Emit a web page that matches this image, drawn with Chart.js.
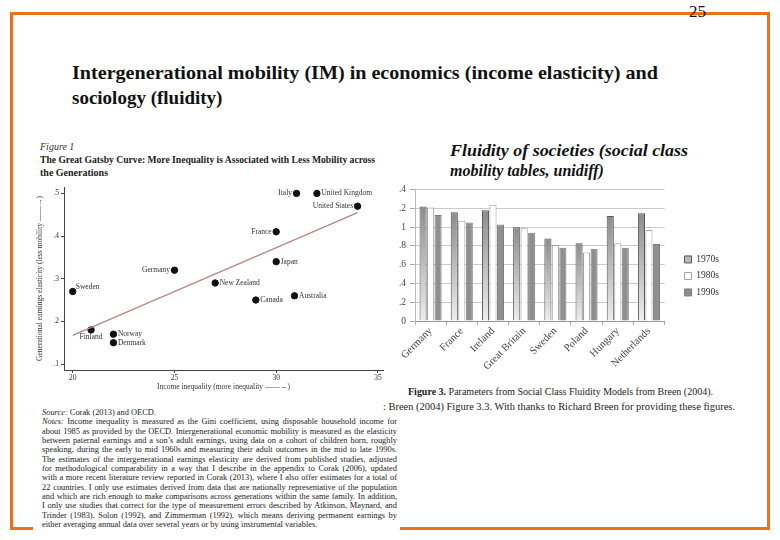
<!DOCTYPE html>
<html lang="en">
<head>
<meta charset="utf-8">
<title>Intergenerational mobility</title>
<script src="https://cdn.jsdelivr.net/npm/chart.js@4.4.1/dist/chart.umd.min.js"></script>
<style>
  html, body { margin: 0; padding: 0; background: #fff; }
  body { width: 780px; height: 540px; position: relative; overflow: hidden;
         font-family: "Liberation Serif", "DejaVu Serif", serif; color: #111; }
  .abs { position: absolute; white-space: nowrap; }
  .marco { position: absolute; left: 10px; top: 12px; width: 754px; height: 512px; border: 3px solid #ec7118; }
  .pagina { left: 689px; top: 2px; font-size: 17px; background: transparent; }
  .titulo { left: 72px; font-size: 19px; font-weight: bold; transform-origin: left center; }
  .figura1 { position: absolute; left: 33px; top: 135px; width: 367px; height: 405px; background: #fff; }
  .linea { display: inline-block; transform-origin: left center; }
  .notas { left: 42px; top: 408px; font-size: 8.4px; line-height: 9.35px; color: #222; }
  .notas div, .notas span, .notas i { white-space: nowrap; color: #222; }
  .notas span.l { display: inline-block; }
  canvas { position: absolute; }
</style>
</head>
<body>
<div class="marco"></div>
<div class="abs pagina">25</div>

<div class="abs titulo" style="top:62px"><span class="linea" data-ancho="586">Intergenerational mobility (IM) in economics (income elasticity) and</span></div>
<div class="abs titulo" style="top:87px"><span class="linea">sociology (fluidity)</span></div>

<div class="figura1"></div>
<div class="abs" style="left:40px; top:141px; font-size:10px; font-style:italic; color:#333;">Figure 1</div>
<div class="abs" style="left:40px; top:154px; font-size:10px; font-weight:bold; color:#222; line-height:12.5px;">
  <span class="linea" data-ancho="335">The Great Gatsby Curve: More Inequality is Associated with Less Mobility across</span><br>
  <span class="linea">the Generations</span>
</div>

<canvas id="graficoGatsby" width="365" height="215" style="left:30px; top:180px;"></canvas>

<div class="abs notas">
  <div><span class="l"><i>Source:</i> Corak (2013) and OECD.</span></div>
  <div><span class="l j"><i>Notes:</i> Income inequality is measured as the Gini coefficient, using disposable household income for</span></div>
  <div><span class="l j">about 1985 as provided by the OECD. Intergenerational economic mobility is measured as the elasticity</span></div>
  <div><span class="l j">between paternal earnings and a son’s adult earnings, using data on a cohort of children born, roughly</span></div>
  <div><span class="l j">speaking, during the early to mid 1960s and measuring their adult outcomes in the mid to late 1990s.</span></div>
  <div><span class="l j">The estimates of the intergenerational earnings elasticity are derived from published studies, adjusted</span></div>
  <div><span class="l j">for methodological comparability in a way that I describe in the appendix to Corak (2006), updated</span></div>
  <div><span class="l j">with a more recent literature review reported in Corak (2013), where I also offer estimates for a total of</span></div>
  <div><span class="l j">22 countries. I only use estimates derived from data that are nationally representative of the population</span></div>
  <div><span class="l j">and which are rich enough to make comparisons across generations within the same family. In addition,</span></div>
  <div><span class="l j">I only use studies that correct for the type of measurement errors described by Atkinson, Maynard, and</span></div>
  <div><span class="l j">Trinder (1983), Solon (1992), and Zimmerman (1992), which means deriving permanent earnings by</span></div>
  <div><span class="l">either averaging annual data over several years or by using instrumental variables.</span></div>
</div>

<div class="abs" style="left:450px; top:141px; font-size:16px; font-weight:bold; font-style:italic; line-height:20px;">
  <span class="linea" data-ancho="238">Fluidity of societies (social class</span><br>
  <span class="linea">mobility tables, unidiff)</span>
</div>

<canvas id="graficoFluidez" width="360" height="203" style="left:395px; top:180px;"></canvas>

<div class="abs" style="left:408px; top:387px; font-size:9.5px; color:#222;"><span class="linea" data-ancho="305"><b>Figure 3.</b> Parameters from Social Class Fluidity Models from Breen (2004).</span></div>
<div class="abs" style="left:383px; top:402px; font-size:9.5px; color:#222;"><span class="linea" data-ancho="352">: Breen (2004) Figure 3.3. With thanks to Richard Breen for providing these figures.</span></div>

<script>
// Datos: curva de Gatsby (desigualdad vs elasticidad)
const paises = ['Italy', 'United Kingdom', 'United States', 'France', 'Japan', 'Germany', 'New Zealand',
                'Canada', 'Australia', 'Sweden', 'Finland', 'Norway', 'Denmark'];
const desigualdad = [31, 32, 34, 30, 30, 25, 27, 29, 30.9, 20, 20.9, 22, 22];
const elasticidad = [0.50, 0.50, 0.47, 0.41, 0.34, 0.32, 0.29, 0.25, 0.26, 0.27, 0.18, 0.17, 0.15];
const ajusteX = [20, 34];
const ajusteY = [0.167, 0.455];
const ticksDesigualdad = [20, 25, 30, 35];
const ticksElasticidad = [0.1, 0.2, 0.3, 0.4, 0.5];
const etiquetasElasticidad = ['.1', '.2', '.3', '.4', '.5'];

// Datos: fluidez (Breen 2004)
const naciones = ['Germany', 'France', 'Ireland', 'Great Britain', 'Sweden', 'Poland', 'Hungary', 'Netherlands'];
const decadas = ['1970s', '1980s', '1990s'];
const fluidez1970 = [1.22, 1.16, 1.18, 1.00, 0.88, 0.83, 1.12, 1.15];
const fluidez1980 = [1.21, 1.07, 1.24, 0.99, 0.81, 0.73, 0.83, 0.97];
const fluidez1990 = [1.13, 1.05, 1.03, 0.94, 0.78, 0.77, 0.78, 0.82];
const ticksFluidez = [0, 0.2, 0.4, 0.6, 0.8, 1, 1.2, 1.4];
const etiquetasFluidez = ['0', '.2', '.4', '.6', '.8', '1', '.2', '.4'];

const serif = '"Liberation Serif", "DejaVu Serif", serif';

// Ajuste de lineas de texto al ancho del original
document.querySelectorAll('.linea[data-ancho]').forEach(el => {
    const ancho = parseFloat(el.dataset.ancho);
    el.style.transform = `scaleX(${ancho / el.getBoundingClientRect().width})`;
});
document.querySelectorAll('.notas .j').forEach(el => {
    const espacios = (el.textContent.match(/ /g) || []).length;
    const natural = el.getBoundingClientRect().width;
    el.style.wordSpacing = ((355 - natural) / espacios) + 'px';
});

// Donde va el nombre de cada pais
const ladoEtiqueta = { 'Italy': 'izq', 'United States': 'izq', 'France': 'izq', 'Germany': 'izq',
                       'Sweden': 'arriba', 'Finland': 'abajo' };

const etiquetasPuntos = {
    id: 'etiquetasPuntos',
    afterDatasetsDraw(chart) {
        const ctx = chart.ctx;
        const meta = chart.getDatasetMeta(1);
        ctx.save();
        ctx.font = `7.5px ${serif}`;
        ctx.fillStyle = '#333';
        ctx.textBaseline = 'middle';
        meta.data.forEach((pt, i) => {
            const lado = ladoEtiqueta[paises[i]] || 'der';
            let x = pt.x, y = pt.y;
            if (lado === 'izq') { ctx.textAlign = 'right'; x -= 4.5; }
            else if (lado === 'abajo') { ctx.textAlign = 'center'; y += 7.5; }
            else if (lado === 'arriba') { ctx.textAlign = 'left'; x += 3; y -= 4.5; }
            else { ctx.textAlign = 'left'; x += 4.5; }
            ctx.fillText(paises[i], x, y);
        });
        ctx.restore();
    }
};

new Chart(document.getElementById('graficoGatsby').getContext('2d'), {
    type: 'scatter',
    data: {
        datasets: [{
            type: 'line',
            data: ajusteX.map((x, i) => ({ x, y: ajusteY[i] })),
            borderColor: '#b88683',
            borderWidth: 1.3,
            pointRadius: 0,
            fill: false
        }, {
            data: desigualdad.map((x, i) => ({ x, y: elasticidad[i] })),
            backgroundColor: '#111',
            borderColor: '#111',
            pointRadius: 3.2
        }]
    },
    options: {
        responsive: false,
        animation: false,
        layout: { padding: { top: 7, right: 12 } },
        plugins: { legend: { display: false }, tooltip: { enabled: false } },
        scales: {
            x: {
                type: 'linear', min: 19.57, max: 35.25,
                afterBuildTicks: s => { s.ticks = ticksDesigualdad.map(v => ({ value: v })); },
                afterFit: s => { s.height = 25; },
                grid: { drawOnChartArea: false, tickLength: 3, color: '#444' },
                border: { color: '#444' },
                ticks: { font: { family: serif, size: 7.5 }, color: '#333', padding: 1, maxRotation: 0 },
                title: { display: true, text: 'Income inequality (more inequality ——→)',
                         font: { family: serif, size: 7.5 }, color: '#333', padding: { top: 0, bottom: 3 } }
            },
            y: {
                min: 0.086, max: 0.515,
                afterBuildTicks: s => { s.ticks = ticksElasticidad.map(v => ({ value: v })); },
                afterFit: s => { s.width = 34; },
                grid: { drawOnChartArea: false, tickLength: 3, color: '#444' },
                border: { color: '#444' },
                ticks: { font: { family: serif, size: 7.5 }, color: '#333', padding: 2,
                         callback: (v, i) => etiquetasElasticidad[i] },
                title: { display: true, text: 'Generational earnings elasticity (less mobility ——→)',
                         font: { family: serif, size: 7.5 }, color: '#333', padding: { top: 6, bottom: 0 } }
            }
        }
    },
    plugins: [etiquetasPuntos]
});

// Degradado por barra para los 1970s
const degradado1970 = (c) => {
    const y = c.chart.scales.y;
    if (!y || c.raw === undefined) return '#b4b4b4';
    const arriba = y.getPixelForValue(c.raw);
    const abajo = y.getPixelForValue(0);
    if (!isFinite(arriba) || !isFinite(abajo)) return '#b4b4b4';
    const g = c.chart.ctx.createLinearGradient(0, arriba, 0, abajo);
    g.addColorStop(0, '#8c8c8c');
    g.addColorStop(1, '#eeeeee');
    return g;
};

new Chart(document.getElementById('graficoFluidez').getContext('2d'), {
    type: 'bar',
    data: {
        labels: naciones,
        datasets: [{
            label: decadas[0],
            data: fluidez1970,
            backgroundColor: degradado1970,
            borderColor: '#555',
            borderWidth: 1
        }, {
            label: decadas[1],
            data: fluidez1980,
            backgroundColor: '#ffffff',
            borderColor: '#a0a0a0',
            borderWidth: 1
        }, {
            label: decadas[2],
            data: fluidez1990,
            backgroundColor: '#8f8f8f',
            borderColor: '#7d7d7d',
            borderWidth: 1
        }]
    },
    options: {
        responsive: false,
        animation: false,
        categoryPercentage: 0.72,
        barPercentage: 0.95,
        layout: { padding: { top: 7, right: 26, bottom: 0 } },
        plugins: {
            tooltip: { enabled: false },
            legend: {
                position: 'right',
                fullSize: false,
                // espacio arriba para bajar la leyenda al centro del original
                title: { display: true, text: ' ', font: { size: 1 }, padding: { top: 40, bottom: 0 } },
                labels: { boxWidth: 7, boxHeight: 7, padding: 7, color: '#333',
                          font: { family: serif, size: 9.5 } }
            }
        },
        scales: {
            x: {
                afterFit: s => { s.height = 62; },
                grid: { drawOnChartArea: false, offset: true, tickLength: 4, color: '#aaa' },
                border: { color: '#999' },
                ticks: { font: { family: serif, size: 10.5 }, color: '#444', minRotation: 45, maxRotation: 45,
                         padding: 0, autoSkip: false }
            },
            y: {
                min: 0, max: 1.4,
                afterBuildTicks: s => { s.ticks = ticksFluidez.map(v => ({ value: v })); },
                afterFit: s => { s.width = 20; },
                grid: { color: '#cacaca', tickColor: '#aaa', tickLength: 5 },
                border: { color: '#bbb' },
                ticks: { font: { family: serif, size: 9.5 }, color: '#444', padding: 4,
                         callback: (v, i) => etiquetasFluidez[i] }
            },
            y2: {
                type: 'linear', position: 'right',
                afterFit: s => { s.width = 13; },
                grid: { display: false }, border: { display: false }, ticks: { display: false }
            }
        }
    }
});
</script>
</body>
</html>
